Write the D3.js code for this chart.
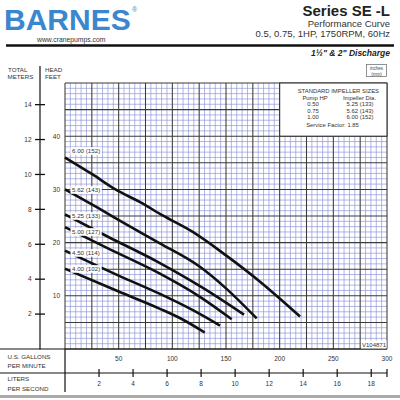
<!DOCTYPE html>
<html><head><meta charset="utf-8">
<script src="https://cdn.jsdelivr.net/npm/d3@7"></script>
<style>html,body{margin:0;padding:0;background:#fff}svg{display:block}text{font-family:"Liberation Sans",Arial,sans-serif}</style>
</head><body>
<script>
// ---- data ----
const gpmTicks = [50, 100, 150, 200, 250, 300];
const lpsTicks = [2, 4, 6, 8, 10, 12, 14, 16, 18];
const feetTicks = [10, 20, 30, 40];
const meterTicks = [2, 4, 6, 8, 10, 12, 14];
const impellerLabels = ["6.00 (152)", "5.62 (143)", "5.25 (133)", "5.00 (127)", "4.50 (114)", "4.00 (102)"];
// [GPM, feet of head]
const curve600 = [[0,36],[25,32.9],[47,30],[70,27.6],[91,25.1],[119,22],[150,17.6],[182,12.6],[200,9.5],[219,6.1]];
const curve562 = [[0,30],[30,26.6],[60,23.1],[88,19.9],[126,15.4],[150,11.4],[178.6,5.75]];
const curve525 = [[0,25.3],[40,21.1],[88,16.2],[130,11.3],[166.8,6.45]];
const curve500 = [[0,22.9],[40,18.9],[88,14.2],[125,9.9],[155.3,5.6]];
const curve450 = [[0,18.5],[50,13.8],[88,10.4],[120,7.2],[144.4,4.4]];
const curve400 = [[0,15.1],[50,10.8],[88,7.6],[110,5.5],[130.2,3.1]];
const legendHP = ["0.50", "0.75", "1.00"];
const legendDia = ["5.25 (133)", "5.62 (143)", "6.00 (152)"];
const serviceFactor = "1.85";

const curves = [curve600, curve562, curve525, curve500, curve450, curve400];
const labelDy = [-4.5, 2.6, 3.6, 6.8, 4.4, 2.3];

// ---- layout ----
const W = 400, H = 400;
const svg = d3.select("body").append("svg").attr("width", W).attr("height", H);
const xs = d3.scaleLinear().domain([0, 300]).range([65, 387]);
const ys = d3.scaleLinear().domain([0, 50]).range([349, 83]);
const ms = d3.scaleLinear().domain([0, 50 / 3.28084]).range([349, 83]);
const ls = d3.scaleLinear().domain([0, 300 / 15.8503]).range([65, 387]);

// header
svg.append("text").attr("x", 4).attr("y", 29.5).attr("font-size", 30).attr("font-weight", "bold")
  .attr("fill", "#3a87cf").text("BARNES");
svg.append("text").attr("x", 132).attr("y", 12).attr("font-size", 7).attr("fill", "#3a87cf").text("®");
svg.append("text").attr("x", 37).attr("y", 41.5).attr("font-size", 6.8).attr("fill", "#333").text("www.cranepumps.com");
svg.append("text").attr("x", 390).attr("y", 16).attr("font-size", 15).attr("font-weight", "bold")
  .attr("text-anchor", "end").attr("fill", "#222").text("Series SE -L");
svg.append("text").attr("x", 390).attr("y", 27).attr("font-size", 9.5)
  .attr("text-anchor", "end").attr("fill", "#333").text("Performance Curve");
svg.append("text").attr("x", 390).attr("y", 37).attr("font-size", 9.5)
  .attr("text-anchor", "end").attr("fill", "#333").text("0.5, 0.75, 1HP, 1750RPM, 60Hz");
svg.append("line").attr("x1", 6).attr("x2", 394).attr("y1", 45.5).attr("y2", 45.5)
  .attr("stroke", "#111").attr("stroke-width", 2.5);
svg.append("text").attr("x", 390).attr("y", 56).attr("font-size", 8.5).attr("font-weight", "bold")
  .attr("font-style", "italic").attr("text-anchor", "end").attr("fill", "#222").text("1½\" & 2\" Discharge");
svg.append("rect").attr("x", 366.5).attr("y", 64.5).attr("width", 20).attr("height", 12)
  .attr("fill", "#fff").attr("stroke", "#777").attr("stroke-width", 0.8);
svg.append("text").attr("x", 376.5).attr("y", 70).attr("font-size", 4.5).attr("text-anchor", "middle").attr("fill", "#444").text("inches");
svg.append("text").attr("x", 376.5).attr("y", 75.5).attr("font-size", 4.5).attr("text-anchor", "middle").attr("fill", "#444").text("(mm)");

// axis header labels
const hdr = [["TOTAL", 8, 71.5], ["METERS", 7.5, 78.5], ["HEAD", 45, 71.5], ["FEET", 45, 78.5]];
hdr.forEach(d => svg.append("text").attr("x", d[1]).attr("y", d[2]).attr("font-size", 6.2).attr("fill", "#333").text(d[0]));
svg.append("line").attr("x1", 40).attr("x2", 40).attr("y1", 66).attr("y2", 349.5).attr("stroke", "#111").attr("stroke-width", 1.2);

// meter ticks
const mt = svg.append("g");
meterTicks.forEach(m => {
  mt.append("line").attr("x1", 35).attr("x2", 45).attr("y1", ms(m)).attr("y2", ms(m)).attr("stroke", "#111").attr("stroke-width", 1.3);
  mt.append("text").attr("x", 31.5).attr("y", ms(m) + 2.3).attr("font-size", 6.5).attr("text-anchor", "end").attr("fill", "#333").text(m);
});
feetTicks.forEach(f => {
  svg.append("text").attr("x", 60).attr("y", ys(f) + 2.3).attr("font-size", 6.5).attr("text-anchor", "end").attr("fill", "#333").text(f);
});

// grid
const grid = svg.append("g");
grid.append("rect").attr("x", xs(0)).attr("y", ys(50)).attr("width", xs(300) - xs(0)).attr("height", ys(0) - ys(50)).attr("fill", "#fff");
const gx = d3.range(0, 301, 5), gy = d3.range(0, 51, 1);
grid.selectAll(".vmin").data(gx.filter(g => g % 25)).join("line")
  .attr("x1", d => xs(d)).attr("x2", d => xs(d)).attr("y1", ys(0)).attr("y2", ys(50))
  .attr("stroke", "#8890d6").attr("stroke-width", 0.65);
grid.selectAll(".hmin").data(gy.filter(g => g % 5)).join("line")
  .attr("y1", d => ys(d)).attr("y2", d => ys(d)).attr("x1", xs(0)).attr("x2", xs(300))
  .attr("stroke", "#8890d6").attr("stroke-width", 0.65);
grid.selectAll(".vmaj").data(gx.filter(g => g % 25 === 0)).join("line")
  .attr("x1", d => xs(d)).attr("x2", d => xs(d)).attr("y1", ys(0)).attr("y2", ys(50))
  .attr("stroke", "#3a3a3a").attr("stroke-width", 1.05);
grid.selectAll(".hmaj").data(gy.filter(g => g % 5 === 0)).join("line")
  .attr("y1", d => ys(d)).attr("y2", d => ys(d)).attr("x1", xs(0)).attr("x2", xs(300))
  .attr("stroke", "#3a3a3a").attr("stroke-width", 1.05);

// bottom frame lines
svg.append("line").attr("x1", 0).attr("x2", xs(300)).attr("y1", ys(0)).attr("y2", ys(0)).attr("stroke", "#111").attr("stroke-width", 1.2);
svg.append("line").attr("x1", 65).attr("x2", 65).attr("y1", ys(0)).attr("y2", 392).attr("stroke", "#111").attr("stroke-width", 1.2);

// legend box
const lx0 = xs(200), lx1 = xs(300), ly0 = ys(50), ly1 = ys(40);
svg.append("rect").attr("x", lx0).attr("y", ly0).attr("width", lx1 - lx0).attr("height", ly1 - ly0)
  .attr("fill", "#fff").attr("stroke", "#333").attr("stroke-width", 1.1);
const lc = (lx0 + lx1) / 2;
const lfs = 5.9;
svg.append("text").attr("x", lc + 5).attr("y", 92.5).attr("font-size", lfs).attr("text-anchor", "middle").attr("fill", "#333").text("STANDARD IMPELLER SIZES");
svg.append("text").attr("x", 315).attr("y", 99.5).attr("font-size", lfs).attr("text-anchor", "middle").attr("fill", "#333").text("Pump HP");
svg.append("text").attr("x", 359.5).attr("y", 99.5).attr("font-size", lfs).attr("text-anchor", "middle").attr("fill", "#333").text("Impeller Dia.");
legendHP.forEach((hp, i) => {
  const y = 106 + i * 6.5;
  svg.append("text").attr("x", 313).attr("y", y).attr("font-size", lfs).attr("text-anchor", "middle").attr("fill", "#333").text(hp);
  svg.append("text").attr("x", 360).attr("y", y).attr("font-size", lfs).attr("text-anchor", "middle").attr("fill", "#333").text(legendDia[i]);
});
svg.append("text").attr("x", 332.5).attr("y", 126.5).attr("font-size", lfs).attr("text-anchor", "middle").attr("fill", "#333").text("Service Factor: " + serviceFactor);

// curves
const line = d3.line().x(d => xs(d[0])).y(d => ys(d[1])).curve(d3.curveMonotoneX);
svg.append("g").selectAll("path").data(curves).join("path")
  .attr("d", line).attr("fill", "none").attr("stroke", "#111").attr("stroke-width", 2.6).attr("stroke-linecap", "butt");

// curve labels
curves.forEach((c, i) => {
  const by = ys(c[0][1]) + labelDy[i];
  const g = svg.append("g");
  const t = g.append("text").attr("x", 72).attr("y", by).attr("font-size", 6.2).attr("fill", "#333").text(impellerLabels[i]);
  const w = t.node().getComputedTextLength();
  g.insert("rect", "text").attr("x", 70.5).attr("y", by - 5.8).attr("width", w + 3).attr("height", 7.6).attr("fill", "#fff");
});

// V number
const vt = svg.append("g");
const vtext = vt.append("text").attr("x", 386).attr("y", 346.5).attr("font-size", 6).attr("text-anchor", "end").attr("fill", "#333").text("V104871");
const vw = vtext.node().getComputedTextLength();
vt.insert("rect", "text").attr("x", 386 - vw - 1).attr("y", 340.5).attr("width", vw + 1.5).attr("height", 8).attr("fill", "#fff");

// bottom axes
const bl = [["U.S. GALLONS", 358.5], ["PER MINUTE", 367.5], ["LITERS", 381], ["PER SECOND", 391]];
bl.forEach(d => svg.append("text").attr("x", 7.5).attr("y", d[1]).attr("font-size", 6.2).attr("fill", "#333").text(d[0]));
gpmTicks.forEach(g => svg.append("text").attr("x", xs(g)).attr("y", 360.5).attr("font-size", 6.5).attr("text-anchor", "middle").attr("fill", "#333").text(g));
svg.append("line").attr("x1", 0).attr("x2", xs(300)).attr("y1", 373).attr("y2", 373).attr("stroke", "#111").attr("stroke-width", 1.2);
lpsTicks.forEach(l => {
  svg.append("line").attr("x1", ls(l)).attr("x2", ls(l)).attr("y1", 369).attr("y2", 377).attr("stroke", "#111").attr("stroke-width", 1.2);
  svg.append("text").attr("x", ls(l)).attr("y", 386).attr("font-size", 6.5).attr("text-anchor", "middle").attr("fill", "#333").text(l);
});
svg.append("line").attr("x1", xs(300)).attr("x2", xs(300)).attr("y1", 369).attr("y2", 377).attr("stroke", "#111").attr("stroke-width", 1.2);
svg.append("rect").attr("x", 0).attr("y", 395).attr("width", 400).attr("height", 3).attr("fill", "#aaa");
</script>
</body></html>
